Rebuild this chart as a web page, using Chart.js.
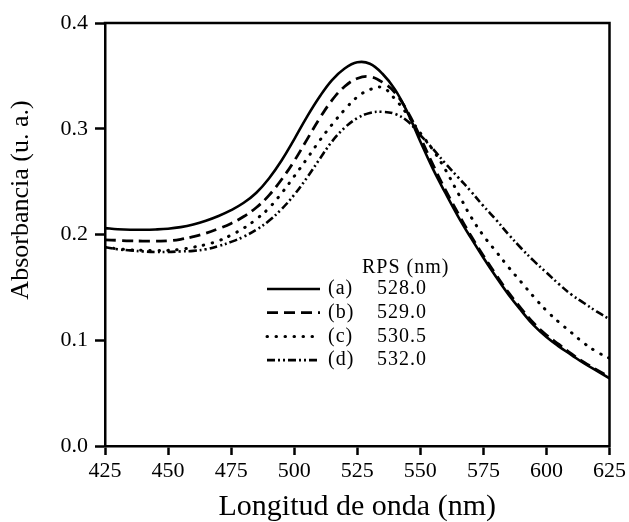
<!DOCTYPE html>
<html><head><meta charset="utf-8">
<script src="https://cdn.jsdelivr.net/npm/chart.js@4/dist/chart.umd.min.js"></script>
<style>html,body{margin:0;padding:0;background:#fff}#wrap{width:629px;height:522px}</style>
</head><body><div id="wrap"><canvas id="c" width="629" height="522"></canvas></div>
<script>
const wavelengths = [425,430,435,440,445,450,455,460,465,470,475,480,485,490,495,500,505,510,515,520,525,530,535,540,545,550,555,560,565,570,575,580,585,590,595,600,605,610,615,620,625];
const absA = [0.206,0.205,0.2045,0.2045,0.2048,0.2055,0.207,0.2095,0.213,0.2175,0.223,0.230,0.2395,0.253,0.270,0.290,0.311,0.330,0.346,0.357,0.3628,0.3615,0.352,0.337,0.315,0.288,0.262,0.239,0.217,0.197,0.178,0.160,0.143,0.128,0.114,0.103,0.094,0.086,0.078,0.071,0.064];
const absB = [0.195,0.1945,0.194,0.1938,0.1938,0.194,0.1955,0.198,0.2012,0.2055,0.2105,0.217,0.2255,0.237,0.252,0.2695,0.2895,0.3095,0.327,0.340,0.3475,0.3492,0.344,0.334,0.316,0.292,0.266,0.242,0.220,0.199,0.180,0.162,0.145,0.130,0.116,0.105,0.096,0.087,0.079,0.072,0.065];
const absC = [0.188,0.1865,0.1855,0.185,0.1848,0.185,0.186,0.188,0.1905,0.194,0.1995,0.206,0.2145,0.225,0.239,0.255,0.2715,0.2885,0.304,0.318,0.330,0.337,0.339,0.328,0.313,0.296,0.280,0.261,0.239,0.217,0.199,0.184,0.169,0.155,0.141,0.128,0.117,0.107,0.097,0.089,0.083];
const absD = [0.188,0.186,0.185,0.184,0.1835,0.1835,0.184,0.1845,0.186,0.189,0.193,0.198,0.2045,0.213,0.224,0.2375,0.2535,0.271,0.288,0.301,0.310,0.315,0.316,0.314,0.307,0.294,0.281,0.267,0.254,0.241,0.227,0.214,0.200,0.187,0.175,0.164,0.153,0.143,0.135,0.127,0.120];
const seriesTags = ['(a)','(b)','(c)','(d)'];
const rpsValues = ['528.0','529.0','530.5','532.0'];
const legendTitle = 'RPS (nm)';
const xTicks = [425,450,475,500,525,550,575,600,625];
const yTicks = [0.0,0.1,0.2,0.3,0.4];
const xTitle = 'Longitud de onda (nm)';
const yTitle = 'Absorbancia (u. a.)';

const SERIF = '"Liberation Serif", "Times New Roman", serif';
const styles = [
  {dash: [], cap: 'butt', width: 2.6},
  {dash: [11, 6], cap: 'butt', width: 2.8},
  {dash: [0.5, 8.5], cap: 'round', width: 3},
  {dash: [8, 3, 2, 3, 2, 3], cap: 'butt', width: 2.6}
];
const allSeries = [absA, absB, absC, absD];

const datasets = allSeries.map((arr, i) => ({
  label: seriesTags[i] + ' ' + rpsValues[i],
  data: wavelengths.map((w, j) => ({x: w, y: arr[j]})),
  borderColor: '#000',
  borderWidth: styles[i].width,
  borderDash: styles[i].dash,
  borderCapStyle: styles[i].cap,
  pointRadius: 0,
  fill: false,
  tension: 0.4
}));

const framePlugin = {
  id: 'frame',
  afterDatasetsDraw(chart) {
    const {ctx, chartArea: a} = chart;
    ctx.save();
    ctx.strokeStyle = '#000';
    ctx.lineWidth = 2.5;
    ctx.beginPath();
    ctx.moveTo(a.left - 1.25, a.top);
    ctx.lineTo(a.right, a.top);
    ctx.lineTo(a.right, a.bottom + 1.25);
    ctx.stroke();
    ctx.restore();
  }
};

const legendPlugin = {
  id: 'rpsLegend',
  afterDraw(chart) {
    const {ctx, chartArea: a} = chart;
    ctx.save();
    ctx.fillStyle = '#000';
    ctx.strokeStyle = '#000';
    ctx.font = '20px ' + SERIF;
    ctx.textBaseline = 'middle';
    ctx.textAlign = 'left';
    try { ctx.letterSpacing = '1px'; } catch (e) {}
    const x0 = a.left + 162;
    ctx.fillText(legendTitle, x0 + 95, a.top + 245);
    for (let i = 0; i < 4; i++) {
      const y = a.top + 266 + i * 23.7;
      ctx.save();
      ctx.lineWidth = styles[i].width;
      ctx.setLineDash(styles[i].dash);
      ctx.lineCap = styles[i].cap;
      ctx.beginPath();
      ctx.moveTo(x0, y);
      ctx.lineTo(x0 + 53, y);
      ctx.stroke();
      ctx.restore();
      ctx.fillText(seriesTags[i], x0 + 61, y);
      ctx.fillText(rpsValues[i], x0 + 110, y);
    }
    try { ctx.letterSpacing = '0px'; } catch (e) {}
    ctx.font = '26px ' + SERIF;
    ctx.translate(21, a.top + 177);
    ctx.rotate(-Math.PI / 2);
    ctx.textAlign = 'center';
    ctx.fillText(yTitle, 0, 0);
    ctx.restore();
  }
};

new Chart(document.getElementById('c'), {
  type: 'line',
  data: {datasets},
  options: {
    responsive: false,
    animation: false,
    layout: {padding: {top: 23, right: 17, left: 0, bottom: 0}},
    plugins: {legend: {display: false}, tooltip: {enabled: false}},
    scales: {
      x: {
        type: 'linear', min: 425, max: 625,
        afterBuildTicks: s => { s.ticks = xTicks.map(v => ({value: v})); },
        afterFit: s => { s.height = 76; },
        grid: {display: true, drawOnChartArea: false, drawTicks: true, tickLength: 9, tickColor: '#000', tickWidth: 2.5},
        border: {display: true, color: '#000', width: 2.5},
        ticks: {color: '#000', font: {family: SERIF, size: 22}, padding: 3, maxRotation: 0, autoSkip: false},
        title: {display: true, text: xTitle, color: '#000', font: {family: SERIF, size: 30, lineHeight: 1}, padding: {top: 0, bottom: 0}}
      },
      y: {
        type: 'linear', min: 0, max: 0.4,
        afterBuildTicks: s => { s.ticks = yTicks.map(v => ({value: v})); },
        afterFit: s => { s.width = 105; },
        grid: {display: true, drawOnChartArea: false, drawTicks: true, tickLength: 10, tickColor: '#000', tickWidth: 2.5},
        border: {display: true, color: '#000', width: 2.5},
        ticks: {color: '#000', font: {family: SERIF, size: 22}, padding: 7, callback: v => Number(v).toFixed(1)}
      }
    }
  },
  plugins: [framePlugin, legendPlugin]
});
</script></body></html>
